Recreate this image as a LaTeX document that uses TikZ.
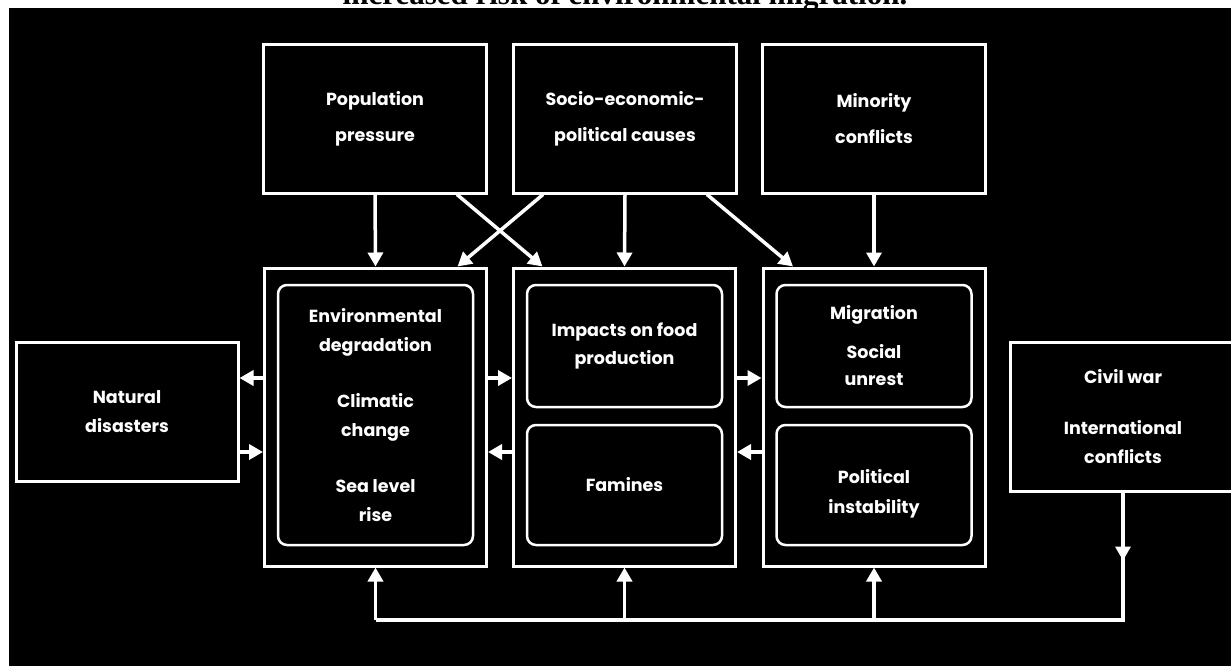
\documentclass[tikz,border=0pt]{standalone}
\usepackage{fontspec}
\setmainfont{Poppins}
\newfontfamily\titlefont{Liberation Serif}
\usetikzlibrary{arrows.meta}

\begin{document}
\begin{tikzpicture}[x=1pt,y=-1pt]
    % Define slide colours
    \definecolor{slideblack}{RGB}{0,0,0}
    \definecolor{linewhite}{RGB}{255,255,255}

    % Define box and arrow styles
    \tikzset{
        cause/.style={
            draw=linewhite,
            line width=3pt,
            minimum width=223pt,
            minimum height=149pt,
            align=center,
            text=linewhite,
            font=\bfseries\fontsize{17.5}{36}\selectfont,
            inner sep=0pt
        },
        column/.style={
            draw=linewhite,
            line width=3pt,
            minimum width=222pt,
            minimum height=298pt,
            inner sep=0pt
        },
        stage/.style={
            draw=linewhite,
            line width=2.5pt,
            rounded corners=9pt,
            minimum width=195pt,
            align=center,
            text=linewhite,
            font=\bfseries\fontsize{17.5}{29}\selectfont,
            inner sep=0pt
        },
        hazard/.style={
            draw=linewhite,
            line width=3pt,
            minimum width=222pt,
            minimum height=139pt,
            align=center,
            text=linewhite,
            font=\bfseries\fontsize{17.5}{29}\selectfont,
            inner sep=0pt
        },
        arrow/.style={
            -{Triangle[width=15pt,length=14pt]},
            draw=linewhite,
            line width=3.5pt
        },
        busline/.style={
            draw=linewhite,
            line width=4.5pt,
            line join=miter
        },
        titletext/.style={
            font=\titlefont\bfseries\fontsize{31}{36}\selectfont,
            text=slideblack,
            anchor=base,
            inner sep=0pt
        }
    }

    \useasboundingbox (0,0) rectangle (1231,665);

    % Slide background
    \fill[slideblack] (9,8) rectangle (1245,672);

    % Title (cut off at the top)
    \node[titletext] (title) at (625,4) {increased risk of environmental migration.};

    % Causes along the top
    \node[cause] (pop) at (375,118.5) {Population\\pressure};
    \node[cause] (socio) at (625,118.5) {Socio-economic-\\political causes};
    \node[cause] (minority) at (874,118.5) {Minority\\conflicts};

    % Three main columns
    \node[column] (envcol) at (375.5,417) {};
    \node[column] (foodcol) at (624.5,417) {};
    \node[column] (socialcol) at (874,417) {};

    % Rounded boxes inside the columns
    \node[stage, minimum height=260pt] (envbox) at (375.5,415)
        {Environmental\\degradation\\[27pt]Climatic\\change\\[27pt]Sea level\\rise};
    \node[stage, minimum height=122pt, font=\bfseries\fontsize{17.5}{28}\selectfont] (impacts) at (624.5,346) {Impacts on food\\production};
    \node[stage, minimum height=120pt] (famines) at (624.5,485) {Famines};
    \node[stage, minimum height=122pt, font=\bfseries\fontsize{17.5}{27}\selectfont] (migration) at (874,346) {Migration\\[12pt]Social\\unrest};
    \node[stage, minimum height=120pt] (political) at (874,485) {};
    \node[text=linewhite, align=center, inner sep=0pt, font=\bfseries\fontsize{17.5}{30}\selectfont] (politicaltext) at (874,494) {Political\\instability};

    % Side boxes
    \node[hazard] (natural) at (127,411.5) {Natural\\disasters};
    \node[hazard, minimum width=226pt, minimum height=149pt] (civil) at (1123,416.5) {Civil war\\[22pt]International\\conflicts};

    % Arrows from the causes
    \draw[arrow] (pop.south) -- (envcol.north);
    \draw[arrow] ([xshift=82pt]pop.south) -- ([xshift=-82pt]foodcol.north);
    \draw[arrow] ([xshift=-82pt]socio.south) -- ([xshift=82pt]envcol.north);
    \draw[arrow] (socio.south) -- (foodcol.north);
    \draw[arrow] ([xshift=82pt]socio.south) -- ([xshift=-81pt]socialcol.north);
    \draw[arrow] (minority.south) -- (socialcol.north);

    % Feedback arrows between the columns
    \coordinate (rowa) at (0,378);
    \coordinate (rowb) at (0,452);
    \draw[arrow] (envcol.west |- rowa) -- (natural.east |- rowa);
    \draw[arrow] (natural.east |- rowb) -- (envcol.west |- rowb);
    \draw[arrow] (envcol.east |- rowa) -- (foodcol.west |- rowa);
    \draw[arrow] (foodcol.west |- rowb) -- (envcol.east |- rowb);
    \draw[arrow] (foodcol.east |- rowa) -- (socialcol.west |- rowa);
    \draw[arrow] (socialcol.west |- rowb) -- (foodcol.east |- rowb);

    % Conflicts feeding back along the bottom
    \coordinate (bus) at (0,620);
    \draw[busline] (civil.south) -- (civil.south |- bus) -- (envcol.south |- bus);
    \draw[arrow] (civil.south) -- ++(0,68);
    \draw[arrow] (envcol.south |- bus) -- (envcol.south);
    \draw[arrow] (foodcol.south |- bus) -- (foodcol.south);
    \draw[arrow] (socialcol.south |- bus) -- (socialcol.south);

\end{tikzpicture}
\end{document}
